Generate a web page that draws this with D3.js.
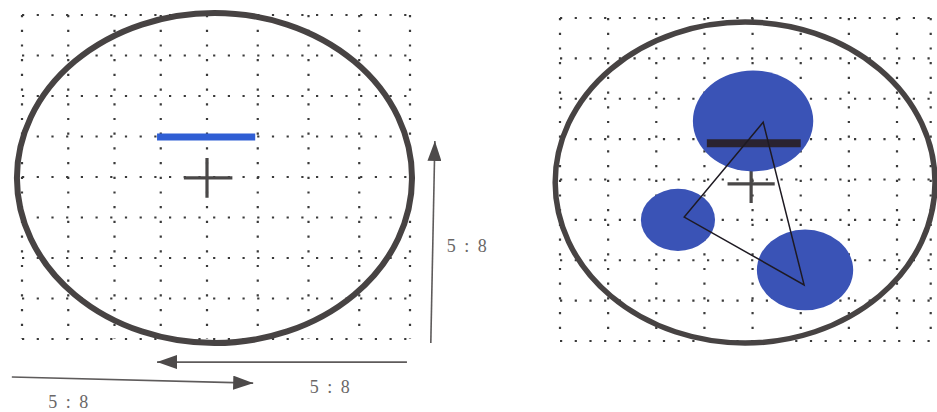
<!DOCTYPE html>
<html>
<head>
<meta charset="utf-8">
<script src="https://cdn.jsdelivr.net/npm/d3@7"></script>
<style>
  body { margin: 0; background: #fff; }
  svg { display: block; }
</style>
</head>
<body>
<div id="chart"></div>
<script>
// grid lines, in grid units
const leftCols = [0, 1, 2, 3, 4, 5, 6, 7, 8];
const leftRows = [0, 1, 2, 3, 4, 5, 6, 7, 8];
const rightCols = [0, 1, 2, 3, 4, 5, 6, 7, 7.7];
const rightRows = [0, 1, 2, 3, 4, 5, 6, 7, 8];

// outer rings [left, top, right, bottom]
const leftRing = [-0.11, -0.05, 8.04, 8.1];
const rightRing = [-0.1, 0.1, 7.79, 8.05];

// bars [x1, x2, y]
const leftBar = [2.92, 4.95, 3.01];
const rightBar = [3.05, 5.0, 3.1];

// crosses [cx, cy, half width, half height]
const leftCross = [4, 4.02, 0.5, 0.49];
const rightCross = [3.97, 4.11, 0.49, 0.47];

// blobs on the right [cx, cy, r]
const blobs = [
  [4.01, 2.55, 1.25],
  [2.45, 5.0, 0.77],
  [5.09, 6.24, 1.0]
];
const triangle = [[4.22, 2.58], [2.58, 4.93], [5.07, 6.61]];

// arrows [x1, y1, x2, y2] in left units
const arrows = [
  [8.41, 8.1, 8.49, 3.11],
  [7.94, 8.57, 2.92, 8.57],
  [-0.22, 8.94, 4.91, 9.09]
];
const labels = [
  { text: "5 : 8", u: 9.14, v: 5.85 },
  { text: "5 : 8", u: 6.44, v: 9.33 },
  { text: "5 : 8", u: 1.02, v: 9.7 }
];

const width = 937, height = 412;
const svg = d3.select("#chart").append("svg")
  .attr("width", width)
  .attr("height", height);

const xL = d3.scaleLinear().domain([0, 4, 8]).range([22, 207, 410]);
const yL = d3.scaleLinear().domain([0, 8]).range([15, 339]);
const xR = d3.scaleLinear().domain([0, 7]).range([560, 897]);
const yR = d3.scaleLinear().domain([0, 8]).range([18, 341]);

svg.append("defs").append("marker")
  .attr("id", "head")
  .attr("viewBox", "0 0 20 14")
  .attr("refX", 20).attr("refY", 7)
  .attr("markerWidth", 20).attr("markerHeight", 14)
  .attr("markerUnits", "userSpaceOnUse")
  .attr("orient", "auto")
  .append("path")
  .attr("d", "M0,0L20,7L0,14Z")
  .attr("fill", "#4d4a4a");

function grid(g, cols, rows, x, y) {
  const y0 = y(rows[0]), y1 = y(rows[rows.length - 1]);
  const x0 = x(cols[0]), x1 = x(cols[cols.length - 1]);
  g.selectAll(".vl").data(cols).enter().append("line")
    .attr("x1", d => x(d)).attr("x2", d => x(d))
    .attr("y1", y0).attr("y2", y1);
  g.selectAll(".hl").data(rows).enter().append("line")
    .attr("y1", d => y(d)).attr("y2", d => y(d))
    .attr("x1", x0).attr("x2", x1);
  g.selectAll("line")
    .attr("stroke", "#3a3a3a")
    .attr("stroke-width", 2.2)
    .attr("stroke-dasharray", "2.2 12.5");
}

function ring(g, r, x, y, w) {
  g.append("ellipse")
    .attr("cx", (x(r[0]) + x(r[2])) / 2)
    .attr("cy", (y(r[1]) + y(r[3])) / 2)
    .attr("rx", (x(r[2]) - x(r[0])) / 2)
    .attr("ry", (y(r[3]) - y(r[1])) / 2)
    .attr("fill", "none")
    .attr("stroke", "#474343")
    .attr("stroke-width", w);
}

function cross(g, c, x, y) {
  g.append("path")
    .attr("d", `M${x(c[0] - c[2])},${y(c[1])}H${x(c[0] + c[2])}M${x(c[0])},${y(c[1] - c[3])}V${y(c[1] + c[3])}`)
    .attr("stroke", "#4a4848")
    .attr("stroke-width", 3.2)
    .attr("fill", "none");
}

// left panel
const gl = svg.append("g");
grid(gl.append("g"), leftCols, leftRows, xL, yL);
ring(gl, leftRing, xL, yL, 6);
gl.append("line")
  .attr("x1", xL(leftBar[0])).attr("x2", xL(leftBar[1]))
  .attr("y1", yL(leftBar[2])).attr("y2", yL(leftBar[2]))
  .attr("stroke", "#2f5ed4")
  .attr("stroke-width", 7);
cross(gl, leftCross, xL, yL);

// right panel
const gr = svg.append("g");
grid(gr.append("g"), rightCols, rightRows, xR, yR);
ring(gr, rightRing, xR, yR, 5.5);
cross(gr, rightCross, xR, yR);
gr.selectAll(".blob").data(blobs).enter().append("ellipse")
  .attr("cx", d => xR(d[0]))
  .attr("cy", d => yR(d[1]))
  .attr("rx", d => xR(d[2]) - xR(0))
  .attr("ry", d => yR(d[2]) - yR(0))
  .attr("fill", "#3a53b6");
gr.append("line")
  .attr("x1", xR(rightBar[0])).attr("x2", xR(rightBar[1]))
  .attr("y1", yR(rightBar[2])).attr("y2", yR(rightBar[2]))
  .attr("stroke", "#2a2330")
  .attr("stroke-width", 8);
gr.append("path")
  .attr("d", d3.line().x(d => xR(d[0])).y(d => yR(d[1]))(triangle) + "Z")
  .attr("fill", "none")
  .attr("stroke", "#1e1a22")
  .attr("stroke-width", 1.5);

// arrows and ratios
svg.selectAll(".arrow").data(arrows).enter().append("line")
  .attr("x1", d => xL(d[0])).attr("y1", d => yL(d[1]))
  .attr("x2", d => xL(d[2])).attr("y2", d => yL(d[3]))
  .attr("stroke", "#5e5b5b")
  .attr("stroke-width", 1.6)
  .attr("marker-end", "url(#head)");

svg.selectAll(".ratio").data(labels).enter().append("text")
  .attr("x", d => xL(d.u))
  .attr("y", d => yL(d.v))
  .attr("text-anchor", "middle")
  .attr("font-family", "Liberation Serif, serif")
  .attr("font-size", 18)
  .attr("letter-spacing", 2)
  .attr("fill", "#6a6767")
  .text(d => d.text);
</script>
</body>
</html>
